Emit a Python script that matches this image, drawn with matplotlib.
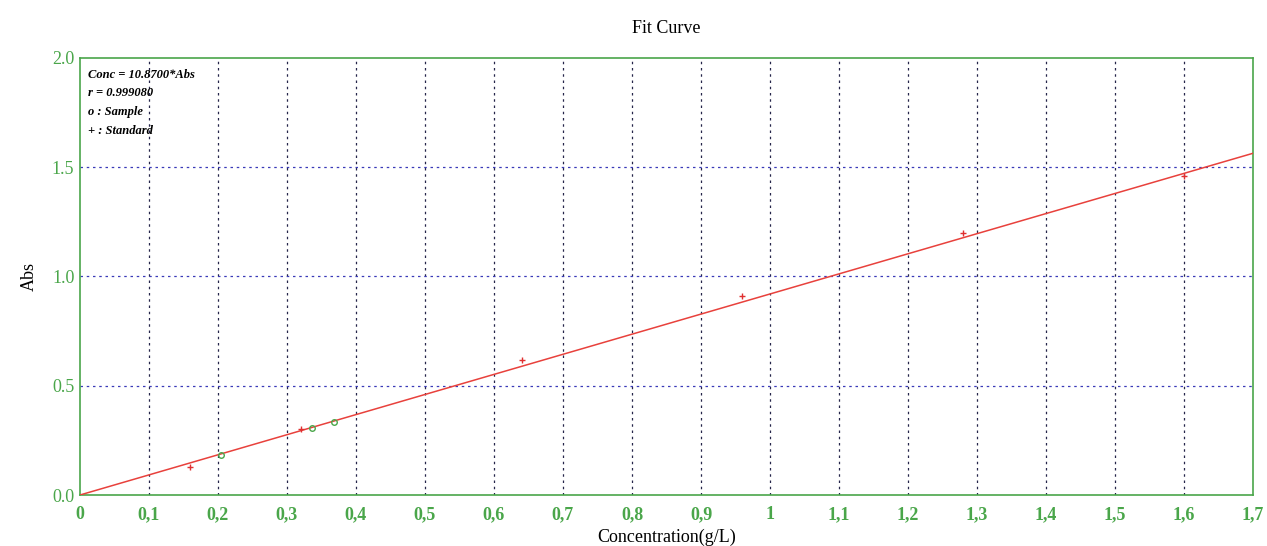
import numpy as np
import matplotlib.pyplot as plt

# Standards and samples
std_conc = [0.16, 0.32, 0.64, 0.96, 1.28, 1.60]
std_abs = [0.13, 0.30, 0.62, 0.91, 1.20, 1.46]
smp_conc = [0.204, 0.336, 0.368]
smp_abs = [0.185, 0.307, 0.334]
fit_slope = 0.92  # Abs per g/L of the drawn line
x_ticks = [0, 0.1, 0.2, 0.3, 0.4, 0.5, 0.6, 0.7, 0.8, 0.9, 1.0,
           1.1, 1.2, 1.3, 1.4, 1.5, 1.6, 1.7]
y_ticks = [0.0, 0.5, 1.0, 1.5, 2.0]

green = '#4aa64a'

plt.rcParams['font.family'] = ['Liberation Serif', 'DejaVu Serif']

fig = plt.figure(figsize=(12.67, 5.46), dpi=100)
ax = fig.add_axes([0.0631, 0.0934, 0.9259, 0.8004])

xs = np.array([0, 1.7])
ax.plot(xs, fit_slope * xs, color='#e8413c', linewidth=1.1, zorder=3)
ax.plot(std_conc, std_abs, '+', color='#e03030', markersize=5, markeredgewidth=1, zorder=4)
ax.plot(smp_conc, smp_abs, 'o', color=green, markerfacecolor='none', markersize=4,
        markeredgewidth=1, zorder=4)

ax.set_xlim(0, 1.7)
ax.set_ylim(0, 2.0)
ax.set_xticks(x_ticks)
ax.set_xticklabels(['0' if t == 0 else ('1' if t == 1.0 else f'{t:.1f}'.replace('.', ','))
                    for t in x_ticks])
ax.set_yticks(y_ticks)
ax.set_yticklabels([f'{t:.1f}' for t in y_ticks])

# vertical grid dark, horizontal grid blue, both dotted
for t in x_ticks[1:-1]:
    ax.axvline(t, color='#25254a', linestyle=(0, (2, 3)), linewidth=0.9, zorder=1)
for t in y_ticks[1:-1]:
    ax.axhline(t, color='#3a3ab8', linestyle=(0, (2, 3)), linewidth=0.9, zorder=1)

for s in ax.spines.values():
    s.set_color(green)
    s.set_linewidth(1.2)
ax.tick_params(length=0, colors=green, labelsize=13)
ax.tick_params(axis='x', pad=8)
ax.tick_params(axis='y', pad=4)
for lab in ax.get_xticklabels():
    lab.set_fontweight('bold')

ax.set_title('Fit Curve', fontsize=13, pad=18)
ax.set_xlabel('Concentration(g/L)', fontsize=13, labelpad=4)
ax.set_ylabel('Abs', fontsize=13, labelpad=10)

info = ['Conc = 10.8700*Abs', 'r = 0.999080', 'o : Sample', '+ : Standard']
for i, line in enumerate(info):
    ax.text(0.007, 0.962 - i * 0.043, line, transform=ax.transAxes, fontsize=9,
            fontstyle='italic', fontweight='bold', va='center', ha='left')

fig.savefig('out.png', dpi=100)
